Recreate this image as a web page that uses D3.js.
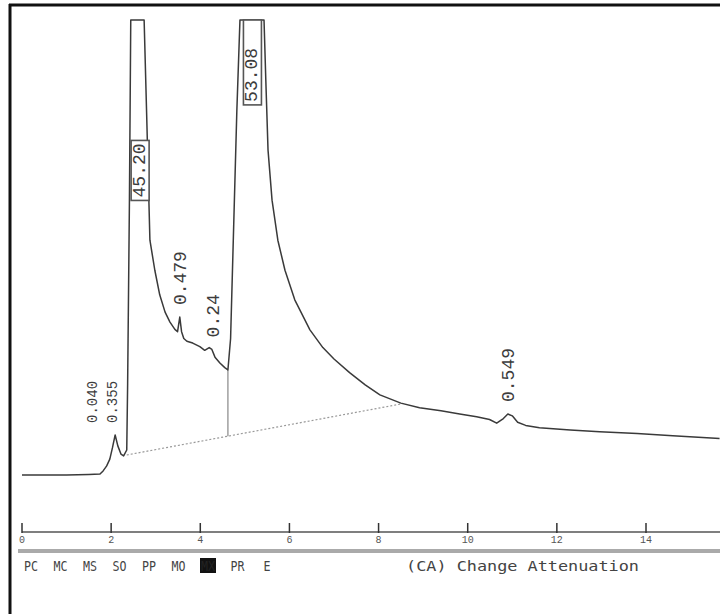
<!DOCTYPE html>
<html>
<head>
<meta charset="utf-8">
<script src="https://cdn.jsdelivr.net/npm/d3@7"></script>
<style>
  html, body { margin: 0; padding: 0; background: #fff; }
  svg { display: block; }
</style>
</head>
<body>
<svg id="chart" width="720" height="614"></svg>
<script>
// Detector trace: retention time (min) and signal (% of recorder full scale, 100 = pen limit)
const traceTime = [0, 0.5, 1.0, 1.5, 1.75, 1.82, 1.9, 1.97, 2.03, 2.09, 2.15, 2.22, 2.28, 2.35,
  2.37, 2.41, 2.44, 2.74, 2.80, 2.87, 2.98, 3.09, 3.21, 3.32, 3.43, 3.49, 3.54, 3.58, 3.63, 3.70,
  3.83, 3.99, 4.10, 4.20, 4.26, 4.33, 4.44, 4.55, 4.62, 4.68, 4.75, 4.82, 4.89, 5.43, 5.47, 5.52,
  5.61, 5.74, 5.90, 6.12, 6.46, 6.75, 7.0, 7.35, 7.7, 8.03, 8.5, 8.92, 9.4, 9.82, 10.2, 10.49,
  10.65, 10.8, 10.9, 11.0, 11.12, 11.3, 11.61, 12.3, 12.96, 13.8, 14.6, 15.65];
const traceSignal = [0, 0, 0, 0.1, 0.2, 0.9, 2.0, 3.5, 6.0, 8.8, 6.4, 4.6, 4.2, 5.5,
  20, 60, 100, 100, 78, 51.6, 45, 39.6, 35.8, 33.6, 32.0, 31.5, 34.7, 31.5, 30.0, 29.4,
  29.0, 28.2, 27.4, 28.0, 27.6, 25.9, 24.6, 23.6, 23.1, 30, 55, 80, 100, 100, 86.8, 71.4,
  60.4, 51.6, 45, 38.5, 31.9, 28.0, 25.5, 22.5, 19.8, 17.6, 15.8, 14.8, 14.1, 13.4, 12.8, 12.2,
  11.4, 12.4, 13.4, 13.0, 11.6, 10.9, 10.4, 9.9, 9.5, 9.1, 8.6, 8.0];

// Integrated peaks: retention time (min) and area %
const peakTime = [1.59, 2.04, 2.65, 3.57, 4.30, 5.17, 10.92];
const peakArea = ["0.040", "0.355", "45.20", "0.479", "0.24", "53.08", "0.549"];

// Baseline under the fused peak group and the drop line splitting the two main peaks
const baseTime = [2.35, 8.5];
const baseSignal = [4.4, 15.6];
const dropTime = 4.62;

// Time axis (min)
const tickValues = [0, 2, 4, 6, 8, 10, 12, 14];

// Softkey row under the plot
const softKeys = ["PC", "MC", "MS", "SO", "PP", "MO", "MX", "PR", "E"];
const activeKey = "MX";
const promptText = "(CA) Change Attenuation";

const svg = d3.select("#chart");
const W = 720, H = 614;

const x = d3.scaleLinear().domain([0, 14]).range([22, 646]);
const y = d3.scaleLinear().domain([0, 100]).range([475, 20]);

const trace = traceTime.map((t, i) => ({ t, s: traceSignal[i] }));
const signalAt = d3.scaleLinear().domain(traceTime).range(traceSignal);
const baseAt = d3.scaleLinear().domain(baseTime).range(baseSignal);

// Page frame
svg.append("line").attr("x1", 10).attr("x2", 10).attr("y1", 4).attr("y2", H)
  .attr("stroke", "#111").attr("stroke-width", 3);
svg.append("line").attr("x1", 9).attr("x2", W).attr("y1", 5).attr("y2", 5)
  .attr("stroke", "#111").attr("stroke-width", 3);

// Dotted integration baseline
svg.append("line")
  .attr("x1", x(baseTime[0])).attr("y1", y(baseSignal[0]))
  .attr("x2", x(baseTime[1])).attr("y2", y(baseSignal[1]))
  .attr("stroke", "#999").attr("stroke-width", 1.2).attr("stroke-dasharray", "2,2");

// Drop line
svg.append("line")
  .attr("x1", x(dropTime)).attr("x2", x(dropTime))
  .attr("y1", y(signalAt(dropTime))).attr("y2", y(baseAt(dropTime)))
  .attr("stroke", "#888").attr("stroke-width", 1.2);

// Chromatogram trace
svg.append("path")
  .datum(trace)
  .attr("fill", "none")
  .attr("stroke", "#3a3a3a")
  .attr("stroke-width", 1.5)
  .attr("stroke-linejoin", "round")
  .attr("d", d3.line().x(d => x(d.t)).y(d => y(d.s)));

// Peak labels, printed vertically
const labelGap = 12;
const localTop = rt => {
  const near = trace.filter(d => d.t >= rt - 0.06 && d.t <= rt + 0.06).map(d => d.s);
  return Math.max(signalAt(rt), near.length ? d3.max(near) : 0);
};
peakTime.forEach((rt, i) => {
  const txt = peakArea[i];
  const clipped = signalAt(rt) >= 100;
  let bottom, size = 18;
  if (clipped) {
    // labels of off-scale peaks sit inside the pen trace
    bottom = i === 2 ? y(61) : y(82);
  } else if (i === 0) {
    // shoulder label shares the level of the neighbouring peak label
    bottom = y(localTop(peakTime[1])) - labelGap;
  } else {
    bottom = y(localTop(rt)) - labelGap;
  }
  if (i < 2) size = 14;
  const g = svg.append("g").attr("transform", `translate(${x(rt)},${bottom}) rotate(-90)`);
  const t = g.append("text")
    .attr("x", 0).attr("y", 0)
    .attr("dominant-baseline", "central")
    .attr("font-family", "'Liberation Mono', 'DejaVu Sans Mono', monospace")
    .attr("font-size", size)
    .attr("fill", "#3c3c3c")
    .text(txt);
  if (clipped) {
    const bb = t.node().getBBox();
    // the box of the second off-scale peak runs up to the pen limit
    const end = i === 5 ? bottom - y(100) : bb.x + bb.width + 3;
    g.insert("rect", "text")
      .attr("x", bb.x - 3).attr("y", bb.y + 1)
      .attr("width", end - (bb.x - 3)).attr("height", bb.height - 2)
      .attr("fill", "#fff").attr("stroke", "#555").attr("stroke-width", 1.6);
  }
});

// Time axis
const axisY = 532;
svg.append("line").attr("x1", x(0)).attr("x2", W).attr("y1", axisY).attr("y2", axisY)
  .attr("stroke", "#555").attr("stroke-width", 1.5);
const ticks = svg.append("g");
ticks.selectAll("line").data(tickValues).join("line")
  .attr("x1", d => x(d)).attr("x2", d => x(d))
  .attr("y1", axisY - 9).attr("y2", axisY + 1)
  .attr("stroke", "#333").attr("stroke-width", 1.5);
ticks.selectAll("text").data(tickValues).join("text")
  .attr("x", d => x(d)).attr("y", axisY + 11)
  .attr("text-anchor", "middle")
  .attr("font-family", "'Liberation Mono', monospace")
  .attr("font-size", 10)
  .attr("fill", "#555")
  .text(d => d);

// Separator band
svg.append("line").attr("x1", 18).attr("x2", W).attr("y1", 551).attr("y2", 551)
  .attr("stroke", "#aaa").attr("stroke-width", 4);

// Softkey row
const keyX = d3.scalePoint().domain(softKeys).range([31, 267]);
const rowY = 571;
softKeys.forEach(k => {
  const cx = keyX(k);
  const active = k === activeKey;
  if (active) {
    svg.append("rect").attr("x", cx - 8).attr("y", rowY - 13).attr("width", 16).attr("height", 15)
      .attr("fill", "#111");
  }
  svg.append("text")
    .attr("x", cx).attr("y", rowY)
    .attr("text-anchor", "middle")
    .attr("font-family", "'DejaVu Sans Mono', monospace")
    .attr("font-size", 14)
    .attr("textLength", k.length * 7)
    .attr("lengthAdjust", "spacingAndGlyphs")
    .attr("fill", active ? "#222" : "#444")
    .text(k);
});
svg.append("text")
  .attr("x", 406).attr("y", rowY)
  .attr("font-family", "'DejaVu Sans Mono', monospace")
  .attr("font-size", 14)
  .attr("textLength", 233)
  .attr("lengthAdjust", "spacingAndGlyphs")
  .attr("fill", "#444")
  .text(promptText);
</script>
</body>
</html>
